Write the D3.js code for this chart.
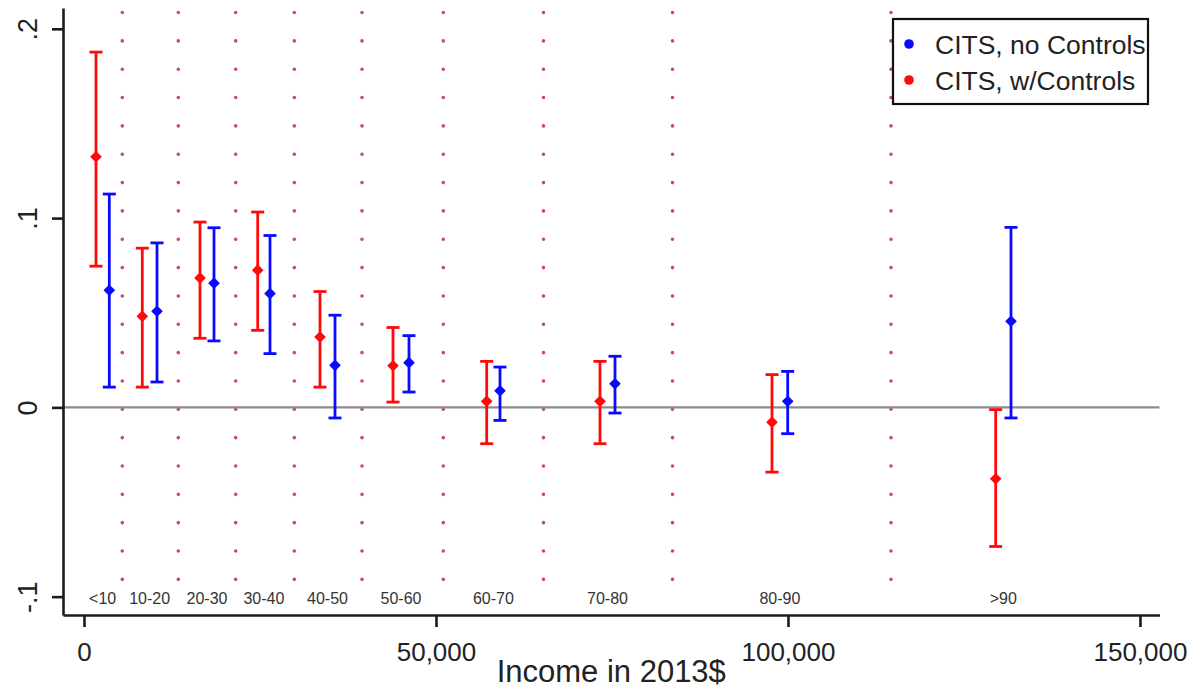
<!DOCTYPE html>
<html>
<head>
<meta charset="utf-8">
<script src="https://cdn.jsdelivr.net/npm/d3@7"></script>
<style>
  html, body { margin: 0; padding: 0; background: #fff; }
  svg { display: block; font-family: "Liberation Sans", Arial, sans-serif; }
</style>
</head>
<body>
<svg id="chart" width="1199" height="692"></svg>
<script>
// Income bins (deciles of household income)
const bins = ["<10", "10-20", "20-30", "30-40", "40-50", "50-60", "60-70", "70-80", "80-90", ">90"];
// Decile boundaries, 2013 dollars
const decileBreaks = [5440, 13395, 21549, 29873, 39490, 51039, 65272, 83597, 114634];

// CITS estimates without controls
const xNoControls = [3594, 10370, 18467, 26421, 35655, 46166, 59093, 75429, 99961, 131680];
const estNoControls = [0.0619, 0.0508, 0.0656, 0.0601, 0.0222, 0.0236, 0.0088, 0.0125, 0.0032, 0.0455];
const loNoControls = [0.0107, 0.0134, 0.0351, 0.0284, -0.0056, 0.0081, -0.0069, -0.0030, -0.0139, -0.0056];
const hiNoControls = [0.1127, 0.0869, 0.0949, 0.0908, 0.0487, 0.0379, 0.0213, 0.0270, 0.0190, 0.0951];

// CITS estimates with controls
const xWithControls = [1705, 8282, 16478, 24674, 33524, 43893, 57203, 73298, 97730, 129506];
const estWithControls = [0.1324, 0.0481, 0.0684, 0.0725, 0.0372, 0.0220, 0.0032, 0.0032, -0.0078, -0.0377];
const loWithControls = [0.0746, 0.0107, 0.0365, 0.0407, 0.0107, 0.0028, -0.0192, -0.0192, -0.0342, -0.0735];
const hiWithControls = [0.1877, 0.0841, 0.0979, 0.1032, 0.0612, 0.0422, 0.0243, 0.0243, 0.0173, -0.0012];

// Axis ticks
const xTicks = [0, 50000, 100000, 150000];
const yTicks = [-0.1, 0, 0.1, 0.2];
const yTickLabels = ["-.1", "0", ".1", ".2"];

const seriesNames = ["CITS, no Controls", "CITS, w/Controls"];
const seriesColors = ["#0a0aff", "#ff0a0a"];

const svg = d3.select("#chart");
const plot = { left: 63, right: 1159.5, top: 8, bottom: 615 };

const x = d3.scaleLinear().domain([-2983, 152775]).range([plot.left, plot.right]);
const y = d3.scaleLinear().domain([-0.1097, 0.211]).range([plot.bottom, plot.top]);

// Dotted decile separators
const dotTop = 0.2086, dotBottom = -0.1055;
svg.append("g").selectAll("line").data(decileBreaks).join("line")
  .attr("x1", d => x(d)).attr("x2", d => x(d))
  .attr("y1", y(dotTop)).attr("y2", y(dotBottom))
  .attr("stroke", "#c8467c")
  .attr("stroke-width", 3.6)
  .attr("stroke-linecap", "round")
  .attr("stroke-dasharray", "0.01 28.33");

// Zero reference line
svg.append("line")
  .attr("x1", plot.left).attr("x2", plot.right)
  .attr("y1", y(0)).attr("y2", y(0))
  .attr("stroke", "#8c8c8c").attr("stroke-width", 2.2);

// Bin labels, centred between the paired estimates
svg.append("g").selectAll("text").data(bins).join("text")
  .attr("x", (d, i) => (x(xNoControls[i]) + x(xWithControls[i])) / 2)
  .attr("y", 604)
  .attr("text-anchor", "middle")
  .attr("font-size", 16)
  .attr("fill", "#333")
  .text(d => d);

// Error bars + point estimates
const series = [
  { xs: xWithControls, est: estWithControls, lo: loWithControls, hi: hiWithControls, color: seriesColors[1] },
  { xs: xNoControls, est: estNoControls, lo: loNoControls, hi: hiNoControls, color: seriesColors[0] }
];
const capHalf = 6.5;
const diamond = d3.symbol().type(d3.symbolSquare).size(68);

series.forEach(s => {
  const g = svg.append("g")
    .attr("stroke", s.color).attr("fill", s.color).attr("stroke-width", 2.8);
  const rows = s.xs.map((xv, i) => ({ x: xv, est: s.est[i], lo: s.lo[i], hi: s.hi[i] }));
  g.selectAll(".stem").data(rows).join("line")
    .attr("x1", d => x(d.x)).attr("x2", d => x(d.x))
    .attr("y1", d => y(d.lo)).attr("y2", d => y(d.hi));
  g.selectAll(".capHi").data(rows).join("line")
    .attr("x1", d => x(d.x) - capHalf).attr("x2", d => x(d.x) + capHalf)
    .attr("y1", d => y(d.hi)).attr("y2", d => y(d.hi));
  g.selectAll(".capLo").data(rows).join("line")
    .attr("x1", d => x(d.x) - capHalf).attr("x2", d => x(d.x) + capHalf)
    .attr("y1", d => y(d.lo)).attr("y2", d => y(d.lo));
  g.selectAll("path").data(rows).join("path")
    .attr("d", diamond)
    .attr("stroke", "none")
    .attr("transform", d => `translate(${x(d.x)},${y(d.est)}) rotate(45)`);
});

// Axes
const axisColor = "#1c1c1c";
const yAxis = svg.append("g")
  .attr("transform", `translate(${plot.left},0)`)
  .call(d3.axisLeft(y).tickValues(yTicks).tickFormat((d, i) => yTickLabels[i]).tickSize(11).tickSizeOuter(0));
yAxis.select(".domain").attr("stroke", axisColor).attr("stroke-width", 2.6);
yAxis.selectAll(".tick line").attr("stroke", axisColor).attr("stroke-width", 2.6);
yAxis.selectAll(".tick text")
  .attr("x", null).attr("dy", null)
  .attr("transform", "translate(-26,0) rotate(-90)")
  .attr("text-anchor", "middle")
  .attr("font-size", 27)
  .attr("fill", "#222");

const xAxis = svg.append("g")
  .attr("transform", `translate(0,${plot.bottom})`)
  .call(d3.axisBottom(x).tickValues(xTicks).tickFormat(d3.format(",")).tickSize(12).tickSizeOuter(0));
xAxis.select(".domain").attr("stroke", axisColor).attr("stroke-width", 2.6);
xAxis.selectAll(".tick line").attr("stroke", axisColor).attr("stroke-width", 2.6);
xAxis.selectAll(".tick text")
  .attr("y", 46).attr("dy", null)
  .attr("font-size", 26)
  .attr("fill", "#222");

// Axis title
svg.append("text")
  .attr("x", (plot.left + plot.right) / 2)
  .attr("y", 682)
  .attr("text-anchor", "middle")
  .attr("font-size", 31)
  .attr("fill", "#222")
  .text("Income in 2013$");

// Legend
const legend = svg.append("g");
legend.append("rect")
  .attr("x", 893).attr("y", 19).attr("width", 255).attr("height", 85)
  .attr("fill", "#fff").attr("stroke", "#111").attr("stroke-width", 2.2);
const legendRows = seriesNames.map((name, i) => ({ name, color: seriesColors[i], cy: 44 + i * 36 }));
legend.selectAll("circle").data(legendRows).join("circle")
  .attr("cx", 909).attr("cy", d => d.cy).attr("r", 4.8).attr("fill", d => d.color);
legend.selectAll("text").data(legendRows).join("text")
  .attr("x", 935).attr("y", d => d.cy + 9.5)
  .attr("font-size", 26.5)
  .attr("fill", "#222")
  .text(d => d.name);
</script>
</body>
</html>
